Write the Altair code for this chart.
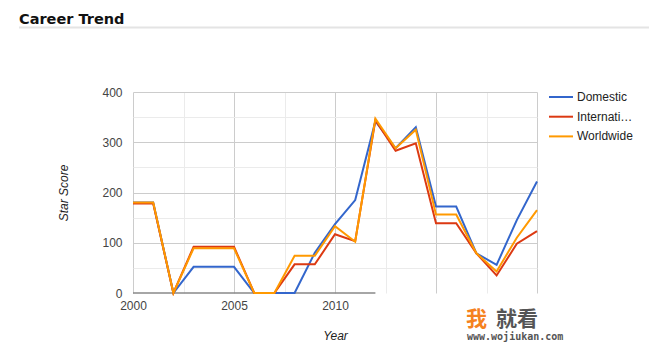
import altair as alt
import pandas as pd

# ---------------- data ----------------
years = [2000, 2001, 2002, 2003, 2004, 2005, 2006, 2007, 2008, 2009, 2010,
         2011, 2012, 2013, 2014, 2015, 2016, 2017, 2018, 2019, 2020]
domestic = [180, 180, 0, 52, 52, 52, 0, 0, 0, 80, 137,
            185, 342, 288, 330, 172, 172, 79, 56, 145, 222]
international = [178, 178, 0, 92, 92, 92, 0, 0, 57, 57, 117,
                 103, 344, 283, 298, 139, 139, 79, 35, 98, 123]
worldwide = [180, 180, 0, 89, 89, 89, 0, 0, 74, 74, 133,
             102, 347, 288, 325, 156, 156, 79, 43, 110, 165]
series = ["Domestic", "International", "Worldwide"]
colors = ["#3366cc", "#dc3912", "#ff9900"]

x_grid = [2000, 2002.5, 2005, 2007.5, 2010, 2012.5, 2015, 2017.5, 2020]
x_labels = [2000, 2005, 2010]
y_grid = [0, 50, 100, 150, 200, 250, 300, 350, 400]
y_labels = [0, 100, 200, 300, 400]
baseline_span = [2000, 2012]

rows = []
for name, vals in zip(series, [domestic, international, worldwide]):
    for yr, v in zip(years, vals):
        rows.append({"year": yr, "value": v, "series": name})
df = pd.DataFrame(rows)

FONT = "Liberation Sans"

x_label_test = " || ".join(f"datum.value == {v}" for v in x_labels)
y_label_test = " || ".join(f"datum.value == {v}" for v in y_labels)

x_axis = alt.Axis(
    values=x_grid, format="d", title="Year",
    labelExpr=f"({x_label_test}) ? datum.label : ''",
    labelOverlap=False, labelFlush=False, domain=False, ticks=False,
    labelPadding=7, labelFont=FONT, labelFontSize=12, labelColor="#444",
    titleFont=FONT, titleFontSize=12, titleFontStyle="italic", titleFontWeight="normal",
    titleColor="#222", titleY=42, titleX=202, titleBaseline="middle",
    gridColor={"condition": {"test": "datum.value % 5 == 0", "value": "#cccccc"}, "value": "#ebebeb"},
    gridWidth=1,
)
y_axis = alt.Axis(
    values=y_grid, format="d", title="Star Score",
    labelExpr=f"({y_label_test}) ? datum.label : ''",
    labelOverlap=False, labelFlush=False, domain=False, ticks=False,
    labelPadding=11, labelFont=FONT, labelFontSize=12, labelColor="#444",
    titleFont=FONT, titleFontSize=12, titleFontStyle="italic", titleFontWeight="normal",
    titleColor="#222", titleX=-70, titleY=100.5, titleBaseline="middle", titleAlign="center",
    titleAngle=270,
    gridColor={"condition": [{"test": "datum.value == 0", "value": "rgba(0,0,0,0)"},
                             {"test": "datum.value % 100 == 0", "value": "#cccccc"}],
               "value": "#ebebeb"},
    gridWidth=1,
)

x_scale = alt.Scale(domain=[2000, 2020], nice=False, zero=False)
y_scale = alt.Scale(domain=[0, 400], nice=False)

base_df = pd.DataFrame({"x0": [baseline_span[0]], "x1": [baseline_span[1]], "y0": [0]})
baseline = alt.Chart(base_df).mark_rule(color="#888888", strokeWidth=1.5).encode(
    x=alt.X("x0:Q", scale=x_scale, axis=x_axis),
    x2="x1:Q",
    y=alt.Y("y0:Q", scale=y_scale, axis=y_axis),
)

lines = alt.Chart(df).mark_line(strokeWidth=2).encode(
    x=alt.X("year:Q", scale=x_scale, axis=x_axis),
    y=alt.Y("value:Q", scale=y_scale, axis=y_axis),
    color=alt.Color(
        "series:N",
        scale=alt.Scale(domain=series, range=colors),
        sort=series,
        legend=alt.Legend(
            title=None, orient="none", legendX=415, legendY=-8,
            symbolType="stroke", symbolSize=576, symbolStrokeWidth=2,
            labelFont=FONT, labelFontSize=12, labelColor="#222",
            labelOffset=3, rowPadding=0.7, padding=0,
            labelExpr="datum.label == 'International' ? 'Internati\u2026' : datum.label",
        ),
    ),
    order=alt.Order("year:Q"),
)

title_df = pd.DataFrame({"t": ["Career Trend"]})
title = alt.Chart(title_df).mark_text(
    align="left", baseline="alphabetic", font="DejaVu Sans", fontWeight="bold",
    fontSize=14.5, color="#111",
).encode(x=alt.value(-114), y=alt.value(-67.7), text="t:N")

underline = alt.Chart(title_df).mark_rule(color="#e4e4e4", strokeWidth=2).encode(
    x=alt.value(-114), x2=alt.value(516), y=alt.value(-64.5)
)

wm1 = alt.Chart(pd.DataFrame({"t": ["我"]})).mark_text(
    align="left", baseline="middle", font="Noto Sans CJK SC", fontWeight="bold",
    fontSize=21, color="#f5821f",
).encode(x=alt.value(333), y=alt.value(228), text="t:N")
wm2 = alt.Chart(pd.DataFrame({"t": ["就看"]})).mark_text(
    align="left", baseline="middle", font="Noto Sans CJK SC", fontWeight="bold",
    fontSize=21, color="#555555",
).encode(x=alt.value(363), y=alt.value(228), text="t:N")
wm3 = alt.Chart(pd.DataFrame({"t": ["www.wojiukan.com"]})).mark_text(
    align="left", baseline="middle", font="DejaVu Sans Mono", fontWeight="bold",
    fontSize=10, color="#555555",
).encode(x=alt.value(334), y=alt.value(245), text="t:N")

chart = alt.layer(baseline, lines, title, underline, wm1, wm2, wm3).properties(
    width=404, height=201,
    padding={"left": 125, "top": 84, "right": 127, "bottom": 60},
    autosize=alt.AutoSizeParams(type="none"),
    background="white",
).configure_view(stroke=None)

chart.save("out.html", embed_options={"renderer": "svg", "actions": False})
